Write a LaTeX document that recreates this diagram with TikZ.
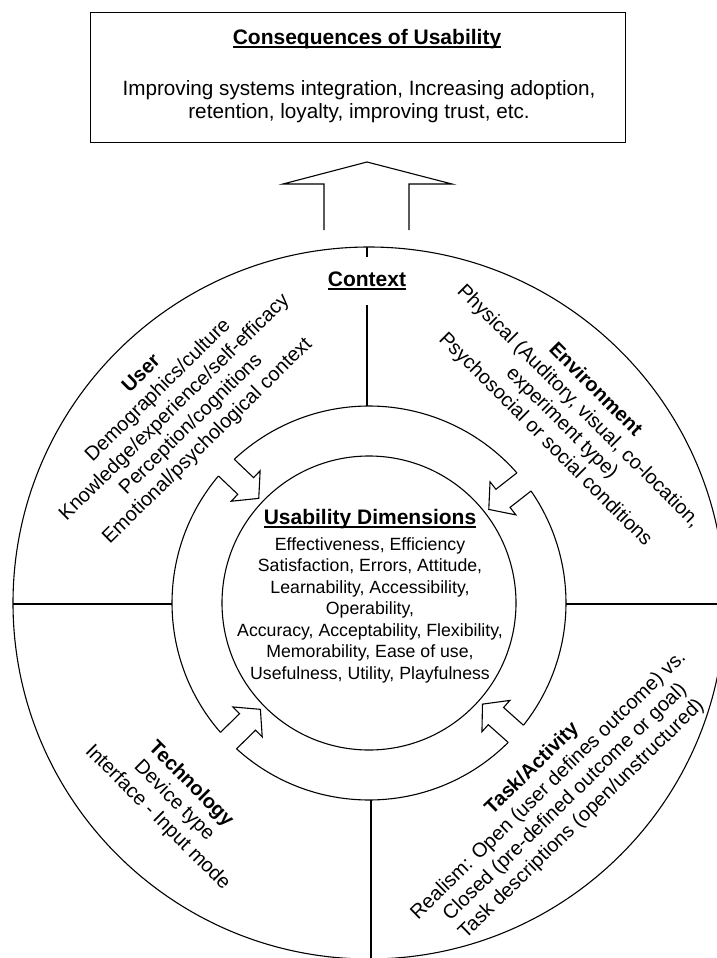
\documentclass[tikz,border=0pt]{standalone}
\usepackage{fontspec}
\setmainfont{Liberation Sans}
\usetikzlibrary{calc}

% bold heading with a thick underline
\newcommand{\uhead}[1]{\setbox0=\hbox{\bfseries #1}\rlap{\rule[-3.4pt]{\wd0}{1.7pt}}\box0}

\tikzset{
  ring/.style={line width=1.1pt, line join=miter},
  boxtext/.style={font=\fontsize{20.7}{23}\selectfont, align=center, inner sep=0pt},
  headtext/.style={font=\fontsize{21}{24}\selectfont, align=center, inner sep=0pt},
  sector/.style={font=\fontsize{20}{23.5}\selectfont, align=center, inner sep=0pt},
  dims/.style={font=\fontsize{17.7}{21.5}\selectfont, align=center, inner sep=0pt},
  inarrow/.pic={
    \draw[ring] (196.66,11.5) -- (170,11.5) -- (170,21) -- (152,0)
                -- (170,-21) -- (170,-11.5) -- (196.66,-11.5);
  }
}

\begin{document}
\begin{tikzpicture}[x=1pt,y=1pt]
\useasboundingbox (0,0) rectangle (717,-958);
\clip (0,0) rectangle (717,-958);

\coordinate (C) at (369,-603);

% ---- consequences box ----
\node[draw, line width=1.3pt, minimum width=535pt, minimum height=130pt,
      anchor=north west, inner sep=0pt] (cons) at (90,-12) {};
\node[headtext] (constitle) at (367,-39) {\uhead{Consequences of Usability}};
\node[boxtext] (consbody) at (359,-102)
  {Improving systems integration, Increasing adoption,\\retention, loyalty, improving trust, etc.};

% ---- big outlined arrow pointing up to the box ----
\draw[ring] (324,-230) -- (324,-184) -- (283,-184) -- (367,-162)
            -- (452,-184) -- (409,-184) -- (409,-230);

% ---- circles ----
\draw[ring] (C) circle[radius=356];
\draw[ring] (C) circle[radius=147];

% middle ring, broken where the inward arrows sit
\draw[ring] ($(C)+(41.35:197)$) arc[start angle=41.35, end angle=133.15, radius=197];
\draw[ring] ($(C)+(139.85:197)$) arc[start angle=139.85, end angle=221.05, radius=197];
\draw[ring] ($(C)+(227.75:197)$) arc[start angle=227.75, end angle=314.95, radius=197];
\draw[ring] ($(C)+(321.65:197)$) arc[start angle=321.65, end angle=394.65, radius=197];

\pic[rotate=136.5] at (C) {inarrow};
\pic[rotate=38] at (C) {inarrow};
\pic[rotate=224.4] at (C) {inarrow};
\pic[rotate=318.3] at (C) {inarrow};

% ---- sector dividers ----
\coordinate (ctxtop) at (367,-247);
\coordinate (ctxbot) at (367,-406);
\node[headtext, fill=white, minimum height=48pt] (ctx) at (367,-281) {\uhead{Context}};
\draw[ring] (ctxtop) -- (ctx.north);
\draw[ring] (ctx.south) -- (ctxbot);

\coordinate (lo) at (13,-604);
\coordinate (li) at (172,-604);
\coordinate (ri) at (566,-604);
\coordinate (ro) at (717,-604);
\coordinate (bi) at (371,-800);
\coordinate (bo) at (371,-958);
\draw[ring] (lo) -- (li);
\draw[ring] (ri) -- (ro);
\draw[ring] (bi) -- (bo);

% ---- sector texts ----
\node[sector, rotate=44.5] (user) at (175,-408)
  {\textbf{User}\\Demographics/culture\\Knowledge/experience/self-efficacy\\Perception/cognitions\\Emotional/psychological context};
\node[sector, rotate=-45] (env) at (570,-415)
  {\textbf{Environment}\\Physical (Auditory, visual, co-location,\\experiment type)\\Psychosocial or social conditions};
\node[sector, rotate=-45] (tech) at (174,-801)
  {\textbf{Technology}\\Device type\\Interface - Input mode};
\node[sector, rotate=44.3] (task) at (557,-794)
  {\textbf{Task/Activity}\\Realism: Open (user defines outcome) vs.\\Closed (pre-defined outcome or goal)\\Task descriptions (open/unstructured)};

% ---- usability dimensions ----
\node[headtext] (dimtitle) at (370,-519) {\uhead{Usability Dimensions}};
\node[dims] (dims) at (370,-610)
  {Effectiveness, Efficiency\\Satisfaction, Errors, Attitude,\\Learnability, Accessibility,\\Operability,\\Accuracy, Acceptability, Flexibility,\\Memorability, Ease of use,\\Usefulness, Utility, Playfulness};

\end{tikzpicture}
\end{document}
